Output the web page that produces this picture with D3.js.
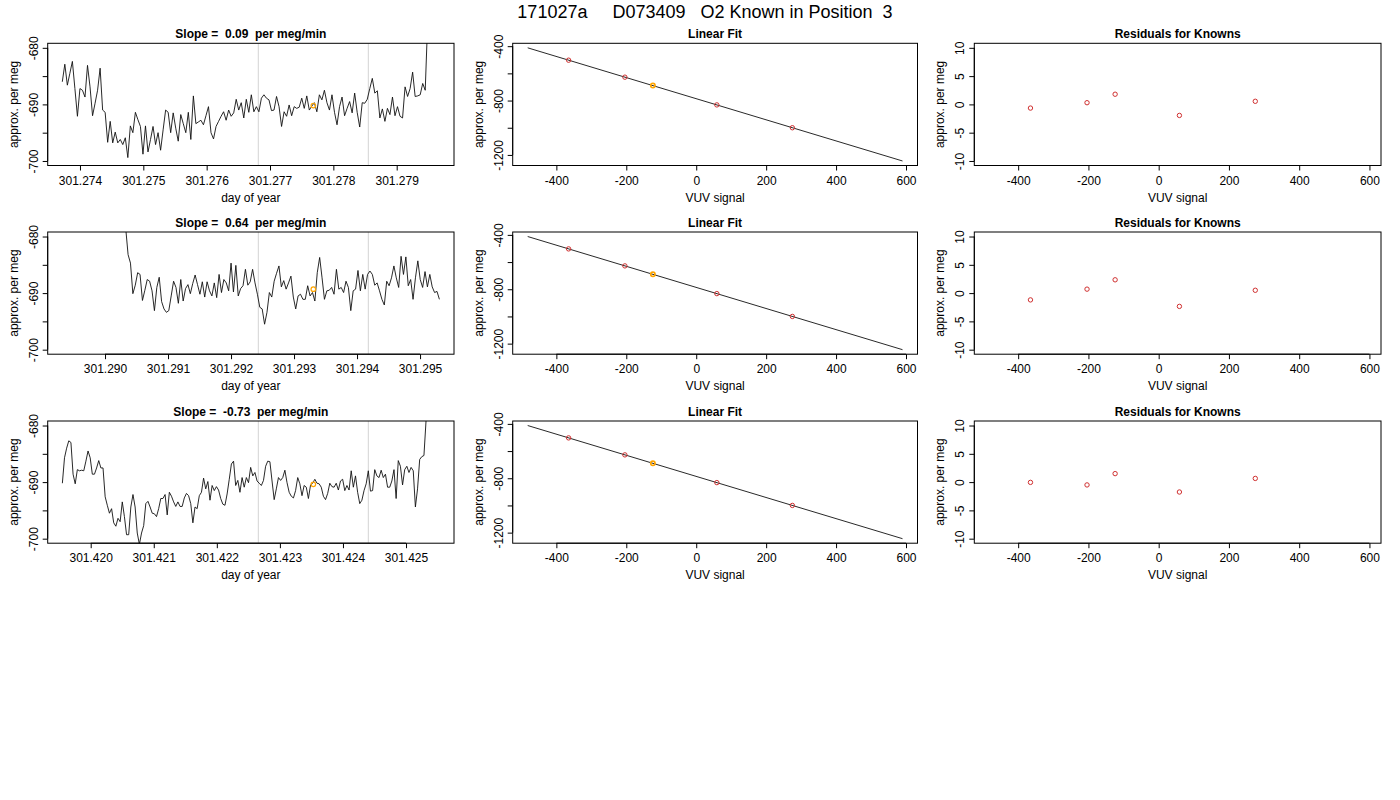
<!DOCTYPE html>
<html>
<head>
<meta charset="utf-8">
<script src="https://cdn.jsdelivr.net/npm/d3@7.9.0/dist/d3.min.js"></script>
<style>
  body { margin: 0; background: #fff; }
  svg { font-family: "Liberation Sans", Arial, Helvetica, sans-serif; }
</style>
</head>
<body>
<svg id="chart" width="1400" height="800"></svg>
<script>
// ---- data ----
const mainTitle = '171027a     D073409   O2 Known in Position  3';
const slopes = ['0.09', '0.64', '-0.73'];

// day-of-year window (x limits) of each time series panel
const dayLimits = [
  [301.273728, 301.279667],
  [301.289329, 301.295300],
  [301.419557, 301.425522]
];
// first / last sample time of each series (regular sampling)
const sampleStart = [301.273721, 301.290328, 301.419551];
const sampleEnd = [301.279530, 301.295307, 301.425352];
const dayTicks = [
  [301.274, 301.275, 301.276, 301.277, 301.278, 301.279],
  [301.290, 301.291, 301.292, 301.293, 301.294, 301.295],
  [301.420, 301.421, 301.422, 301.423, 301.424, 301.425]
];
// grey markers (integration window)
const windowDays = [
  [301.276815, 301.278552],
  [301.292433, 301.294179],
  [301.422658, 301.424402]
];
const meanDay = [301.277684, 301.293306, 301.423530];
const meanPerMeg = [-690.2, -689.3, -690.4];

const perMeg1 = [
  -686.0, -682.9, -686.6, -684.5, -682.4, -687.2, -692.1, -687.2, -687.5, -688.7,
  -683.1, -686.9, -692.0, -689.8, -687.5, -683.6, -691.0, -691.4, -696.7, -693.0,
  -696.8, -694.9, -696.8, -696.2, -697.1, -695.9, -699.4, -693.8, -695.0, -691.4,
  -692.7, -693.9, -698.8, -693.8, -698.4, -696.2, -693.9, -697.1, -695.0, -698.1,
  -694.5, -691.0, -691.4, -695.0, -691.5, -694.2, -696.5, -691.8, -693.4, -695.0,
  -691.4, -696.2, -688.5, -693.4, -693.1, -692.8, -693.6, -692.0, -690.4, -695.0,
  -696.1, -693.9, -693.0, -692.1, -691.3, -692.8, -691.0, -692.1, -691.5, -689.1,
  -691.0, -689.7, -692.4, -689.1, -691.4, -688.3, -691.3, -690.4, -691.3, -688.9,
  -688.3, -688.9, -689.2, -691.1, -691.0, -688.6, -690.4, -693.9, -691.3, -692.1,
  -690.1, -692.0, -690.4, -690.7, -690.5, -688.9, -690.7, -688.5, -691.0, -690.3,
  -689.7, -691.3, -688.3, -689.2, -687.5, -689.7, -691.0, -688.3, -691.4, -693.6,
  -690.4, -688.7, -692.0, -690.7, -689.5, -691.5, -688.0, -691.4, -694.0, -689.7,
  -689.8, -689.1, -687.2, -685.4, -688.0, -687.6, -692.4, -690.8, -693.0, -690.7,
  -691.8, -688.7, -692.0, -690.4, -692.1, -692.4, -686.9, -688.6, -687.2, -684.3,
  -688.6, -688.5, -688.3, -686.3, -687.5, -675.0, -668.0
];
const perMeg2 = [
  -678.5, -683.2, -684.7, -690.1, -688.6, -686.4, -686.7, -691.3, -689.5, -687.6,
  -687.9, -689.6, -693.1, -689.0, -687.2, -691.5, -692.8, -693.4, -693.1, -690.5,
  -687.9, -689.0, -691.8, -687.6, -691.4, -689.2, -688.5, -690.1, -688.3, -686.8,
  -688.5, -690.2, -688.0, -690.7, -688.0, -689.6, -690.5, -688.2, -690.8, -686.7,
  -689.9, -687.6, -688.2, -689.6, -684.7, -689.8, -685.1, -690.5, -689.2, -688.7,
  -685.8, -688.6, -688.0, -685.8, -688.2, -690.2, -692.5, -692.8, -695.5, -693.4,
  -689.9, -690.7, -687.9, -686.5, -685.2, -688.9, -687.8, -689.3, -688.2, -687.0,
  -690.7, -692.8, -690.5, -690.2, -691.1, -691.1, -688.7, -690.5, -689.9, -691.4,
  -686.4, -683.7, -687.3, -691.1, -689.6, -689.5, -689.0, -690.2, -685.8, -689.3,
  -689.0, -689.9, -687.9, -689.0, -693.1, -689.6, -689.3, -686.0, -689.6, -686.7,
  -689.3, -686.7, -686.1, -686.7, -688.6, -688.2, -689.6, -691.1, -692.1, -687.9,
  -688.7, -687.3, -685.2, -687.3, -689.0, -683.5, -686.7, -683.6, -688.7, -687.6,
  -691.1, -687.3, -684.3, -687.6, -689.0, -686.2, -688.9, -686.7, -688.9, -689.9,
  -689.7, -691.1
];
const perMeg3 = [
  -690.2, -685.7, -684.0, -682.7, -683.0, -688.6, -690.3, -687.8, -688.0, -687.9,
  -688.0, -686.3, -684.5, -685.7, -688.6, -688.6, -687.5, -686.2, -687.5, -687.5,
  -692.6, -694.1, -695.5, -694.7, -697.2, -697.8, -696.4, -697.0, -693.5, -696.1,
  -699.3, -699.3, -694.4, -692.2, -694.4, -699.0, -701.0, -699.0, -697.7, -693.8,
  -693.4, -694.4, -695.5, -695.6, -696.1, -694.7, -692.9, -692.9, -692.2, -695.8,
  -691.8, -692.5, -693.5, -694.3, -693.5, -694.3, -694.3, -692.8, -692.0, -692.4,
  -693.8, -697.2, -694.4, -694.7, -692.4, -691.8, -689.3, -691.2, -689.9, -693.2,
  -690.6, -691.5, -690.8, -691.4, -692.9, -693.9, -694.1, -692.1, -689.5, -686.8,
  -686.3, -690.6, -689.7, -691.8, -689.2, -690.9, -689.2, -690.1, -687.4, -688.9,
  -688.3, -689.8, -690.2, -690.6, -689.7, -687.2, -686.3, -686.4, -689.8, -693.1,
  -691.2, -689.2, -689.7, -689.2, -687.9, -690.1, -691.8, -692.5, -692.8, -691.5,
  -689.2, -690.3, -692.4, -690.6, -690.9, -692.9, -690.5, -690.2, -689.5, -690.2,
  -690.3, -690.9, -692.5, -693.1, -692.0, -690.2, -690.8, -690.9, -690.2, -691.4,
  -689.8, -689.5, -691.5, -690.6, -691.4, -688.0, -690.9, -688.9, -691.8, -693.8,
  -693.2, -691.5, -690.3, -688.0, -691.6, -691.5, -687.8, -688.9, -689.2, -687.9,
  -689.2, -688.6, -690.9, -690.9, -689.8, -687.8, -692.9, -686.2, -687.2, -690.5,
  -687.8, -687.2, -688.3, -687.4, -688.0, -694.4, -691.2, -686.0, -685.5, -685.3,
  -679.0, -672.0
];
const perMegSeries = [perMeg1, perMeg2, perMeg3];
const perMegLimits = [-700, -680];
const perMegTicks = [-700, -695, -690, -685, -680];
const perMegLabels = [-700, -690, -680];

// knowns: VUV signal vs assigned value, position 3 highlighted
const knownVUV = [-365, -204, -124, 59, 275];
const knownPerMeg = [-503, -628, -690, -832, -1000];
const highlightIndex = 2;
const vuvRange = [-482, 590];
const vuvTicks = [-400, -200, 0, 200, 400, 600];
const fitTicks = [-1200, -1000, -800, -600, -400];
const fitLabels = [-1200, -800, -400];

const residuals = [
  [-0.65, 0.3, 1.8, -1.95, 0.55],
  [-1.2, 0.7, 2.35, -2.35, 0.5],
  [-0.05, -0.5, 1.5, -1.75, 0.65]
];
const residLimits = [-10, 10];
const residTicks = [-10, -5, 0, 5, 10];

// ---- layout ----
const svg = d3.select('#chart');
const colLeft = [47.7, 512.7, 974.3];
const colWidth = [406.3, 404.8, 406.7];
const rowTop = [43.3, 232, 421];
const boxH = 122.2;
const FONT = '"Liberation Sans", Arial, Helvetica, sans-serif';

// R pads the axis range by 4% on each side
function pad(dom) {
  const d = (dom[1] - dom[0]) * 0.04;
  return [dom[0] - d, dom[1] + d];
}

// plain hyphen minus, like R
const plain = v => String(v);

svg.append('text')
  .attr('x', 705).attr('y', 18)
  .attr('text-anchor', 'middle')
  .attr('font-size', 18)
  .style('white-space', 'pre')
  .text(mainTitle);

let clipId = 0;

function panel(row, col, xDom, yDom, opts) {
  const left = colLeft[col], top = rowTop[row], w = colWidth[col];
  const x = d3.scaleLinear().domain(pad(xDom)).range([left, left + w]);
  const y = d3.scaleLinear().domain(pad(yDom)).range([top + boxH, top]);
  const g = svg.append('g');

  const id = 'clip' + (clipId++);
  g.append('clipPath').attr('id', id)
    .append('rect').attr('x', left).attr('y', top).attr('width', w).attr('height', boxH);
  const plot = g.append('g').attr('clip-path', `url(#${id})`);

  // x axis
  const ax = g.append('g').attr('transform', `translate(0,${top + boxH})`)
    .call(d3.axisBottom(x).tickValues(opts.xTicks).tickSize(5).tickFormat(opts.xFmt));
  ax.attr('font-family', FONT).attr('font-size', 12);
  ax.select('.domain').attr('d',
    `M${x(opts.xTicks[0])},0H${x(opts.xTicks[opts.xTicks.length - 1])}`);
  ax.selectAll('text').attr('y', 19).attr('dy', null).attr('fill', '#000');
  ax.selectAll('line, path').attr('stroke', '#000');

  // y axis (labels parallel to the axis)
  const ay = g.append('g').attr('transform', `translate(${left},0)`)
    .call(d3.axisLeft(y).tickValues(opts.yTicks).tickSize(5)
      .tickFormat(v => opts.yLabels.includes(v) ? plain(v) : ''));
  ay.attr('font-family', FONT).attr('font-size', 12);
  ay.select('.domain').attr('d',
    `M0,${y(opts.yTicks[0])}V${y(opts.yTicks[opts.yTicks.length - 1])}`);
  ay.selectAll('text')
    .attr('x', 0).attr('y', -10).attr('dy', null)
    .attr('transform', 'rotate(-90)')
    .attr('text-anchor', 'middle').attr('fill', '#000');
  ay.selectAll('line, path').attr('stroke', '#000');

  g.append('rect')
    .attr('x', left).attr('y', top).attr('width', w).attr('height', boxH)
    .attr('fill', 'none').attr('stroke', '#000').attr('stroke-width', 1);

  g.append('text')
    .attr('x', left + w / 2).attr('y', top - 5.5)
    .attr('text-anchor', 'middle').attr('font-weight', 'bold').attr('font-size', 12)
    .style('white-space', 'pre')
    .text(opts.title);
  g.append('text')
    .attr('x', left + w / 2).attr('y', top + boxH + 36)
    .attr('text-anchor', 'middle').attr('font-size', 12)
    .text(opts.xLabel);
  g.append('text')
    .attr('transform', `translate(${left - 30},${top + boxH / 2}) rotate(-90)`)
    .attr('text-anchor', 'middle').attr('font-size', 12)
    .text('approx. per meg');

  return { x, y, plot };
}

const dayFmt = d3.format('.3f');

for (let r = 0; r < 3; r++) {
  // ---- time series ----
  const vals = perMegSeries[r];
  const step = (sampleEnd[r] - sampleStart[r]) / (vals.length - 1);
  const ts = panel(r, 0, dayLimits[r], perMegLimits, {
    xTicks: dayTicks[r], xFmt: dayFmt,
    yTicks: perMegTicks, yLabels: perMegLabels,
    title: `Slope =  ${slopes[r]}  per meg/min`, xLabel: 'day of year'
  });
  ts.plot.selectAll('line.win').data(windowDays[r]).join('line')
    .attr('class', 'win')
    .attr('x1', d => ts.x(d)).attr('x2', d => ts.x(d))
    .attr('y1', rowTop[r]).attr('y2', rowTop[r] + boxH)
    .attr('stroke', '#d3d3d3').attr('stroke-width', 1);
  ts.plot.append('path')
    .datum(vals)
    .attr('d', d3.line()
      .x((d, i) => ts.x(sampleStart[r] + i * step))
      .y(d => ts.y(d)))
    .attr('fill', 'none').attr('stroke', '#111').attr('stroke-width', 0.9);
  ts.plot.append('circle')
    .attr('cx', ts.x(meanDay[r])).attr('cy', ts.y(meanPerMeg[r])).attr('r', 2.3)
    .attr('fill', 'none').attr('stroke', 'orange').attr('stroke-width', 1.2);

  // ---- linear fit ----
  const mx = d3.mean(knownVUV), my = d3.mean(knownPerMeg);
  const slope = d3.sum(knownVUV, (v, i) => (v - mx) * (knownPerMeg[i] - my)) /
    d3.sum(knownVUV, v => (v - mx) * (v - mx));
  const fit = v => my + slope * (v - mx);
  const fitEnds = vuvRange.map(fit);
  const lf = panel(r, 1, vuvRange, d3.extent(fitEnds), {
    xTicks: vuvTicks, xFmt: plain,
    yTicks: fitTicks, yLabels: fitLabels,
    title: 'Linear Fit', xLabel: 'VUV signal'
  });
  lf.plot.append('line')
    .attr('x1', lf.x(vuvRange[0])).attr('y1', lf.y(fitEnds[0]))
    .attr('x2', lf.x(vuvRange[1])).attr('y2', lf.y(fitEnds[1]))
    .attr('stroke', '#111').attr('stroke-width', 0.9);
  lf.plot.selectAll('circle').data(knownVUV).join('circle')
    .attr('cx', d => lf.x(d)).attr('cy', (d, i) => lf.y(knownPerMeg[i])).attr('r', 2.2)
    .attr('fill', 'none')
    .attr('stroke', (d, i) => i === highlightIndex ? 'orange' : '#d03030')
    .attr('stroke-width', (d, i) => i === highlightIndex ? 1.6 : 1);

  // ---- residuals ----
  const rs = panel(r, 2, vuvRange, residLimits, {
    xTicks: vuvTicks, xFmt: plain,
    yTicks: residTicks, yLabels: residTicks,
    title: 'Residuals for Knowns', xLabel: 'VUV signal'
  });
  rs.plot.selectAll('circle').data(residuals[r]).join('circle')
    .attr('cx', (d, i) => rs.x(knownVUV[i])).attr('cy', d => rs.y(d)).attr('r', 2.2)
    .attr('fill', 'none').attr('stroke', '#d03030').attr('stroke-width', 1);
}
</script>
</body>
</html>
